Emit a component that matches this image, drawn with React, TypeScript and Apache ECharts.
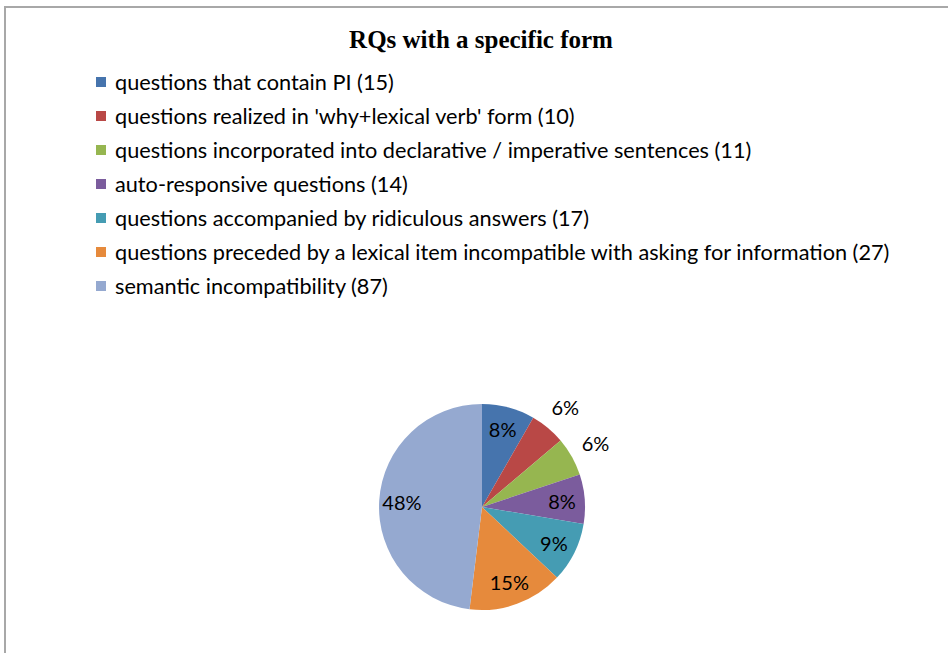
import React, { useEffect, useRef } from "react";
import * as echarts from "echarts";

const titleText = "RQs with a specific form";
const categories = [
  "questions that contain PI (15)",
  "questions realized in 'why+lexical verb' form (10)",
  "questions incorporated into declarative / imperative sentences (11)",
  "auto-responsive questions (14)",
  "questions accompanied by ridiculous answers (17)",
  "questions preceded by a lexical item incompatible with asking for information (27)",
  "semantic incompatibility (87)",
];
const values = [15, 10, 11, 14, 17, 27, 87];
const colors = ["#4674AD", "#B94846", "#96B650", "#7B5C9D", "#459CB3", "#E68A3C", "#95A9D0"];
// which slices show their percentage outside the pie
const outsideLabel = [false, true, true, false, false, false, false];

export default function App() {
  const ref = useRef<HTMLDivElement>(null);
  useEffect(() => {
    if (!ref.current) return;
    const chart = echarts.init(ref.current, undefined, { renderer: "svg" });
    const font = "Lato";
    const cx = 482;
    const cy = 507;
    const R = 103;
    const labelStyle = { color: "#000", fontFamily: font, fontSize: 20 };
    chart.setOption({
      animation: false,
      backgroundColor: "#fff",
      title: {
        text: titleText,
        left: 476,
        textAlign: "center",
        top: 22,
        textStyle: {
          fontFamily: "Liberation Serif",
          fontWeight: "bold",
          fontSize: 25,
          color: "#000",
        },
      },
      legend: {
        orient: "vertical",
        left: 91,
        top: 66,
        itemWidth: 10,
        itemHeight: 10,
        itemGap: 12,
        icon: "rect",
        selectedMode: false,
        data: categories.map((n, i) => ({ name: n, itemStyle: { color: colors[i] } })),
        textStyle: {
          fontFamily: font,
          fontSize: 21.7,
          lineHeight: 20,
          color: "#000",
          padding: [0, 0, 0, 4],
        },
      },
      graphic: [
        {
          type: "rect",
          shape: { x: 5, y: 7, width: 1000, height: 800 },
          style: { fill: "none", stroke: "#a8a8a8", lineWidth: 2 },
          silent: true,
        },
      ],
      series: [
        {
          type: "pie",
          center: [cx, cy],
          radius: [0, R],
          startAngle: 90,
          clockwise: true,
          label: { show: false },
          labelLine: { show: false },
          itemStyle: { borderWidth: 0 },
          data: categories.map((n, i) => ({
            name: n,
            value: values[i],
            itemStyle: { color: colors[i] },
          })),
        },
        {
          type: "pie",
          center: [cx, cy],
          radius: [R * 0.5, R],
          startAngle: 90,
          clockwise: true,
          silent: true,
          percentPrecision: 0,
          avoidLabelOverlap: false,
          itemStyle: { color: "rgba(0,0,0,0)", borderWidth: 0 },
          emphasis: { disabled: true },
          labelLine: { show: false },
          label: { show: true, position: "inside", formatter: "{d}%", ...labelStyle },
          data: values.map((v, i) => ({
            value: v,
            label: { show: !outsideLabel[i] },
          })),
        },
        {
          type: "pie",
          center: [cx, cy],
          radius: [R, R * 1.47],
          startAngle: 90,
          clockwise: true,
          silent: true,
          percentPrecision: 0,
          avoidLabelOverlap: false,
          itemStyle: { color: "rgba(0,0,0,0)", borderWidth: 0 },
          emphasis: { disabled: true },
          labelLine: { show: false },
          label: { show: true, position: "inside", formatter: "{d}%", ...labelStyle },
          data: values.map((v, i) => ({
            value: v,
            label: { show: outsideLabel[i] },
          })),
        },
      ],
    });
    return () => chart.dispose();
  }, []);
  return (
    <div
      ref={ref}
      style={{ position: "fixed", left: 0, top: 0, width: 948, height: 653, background: "#fff" }}
    />
  );
}
